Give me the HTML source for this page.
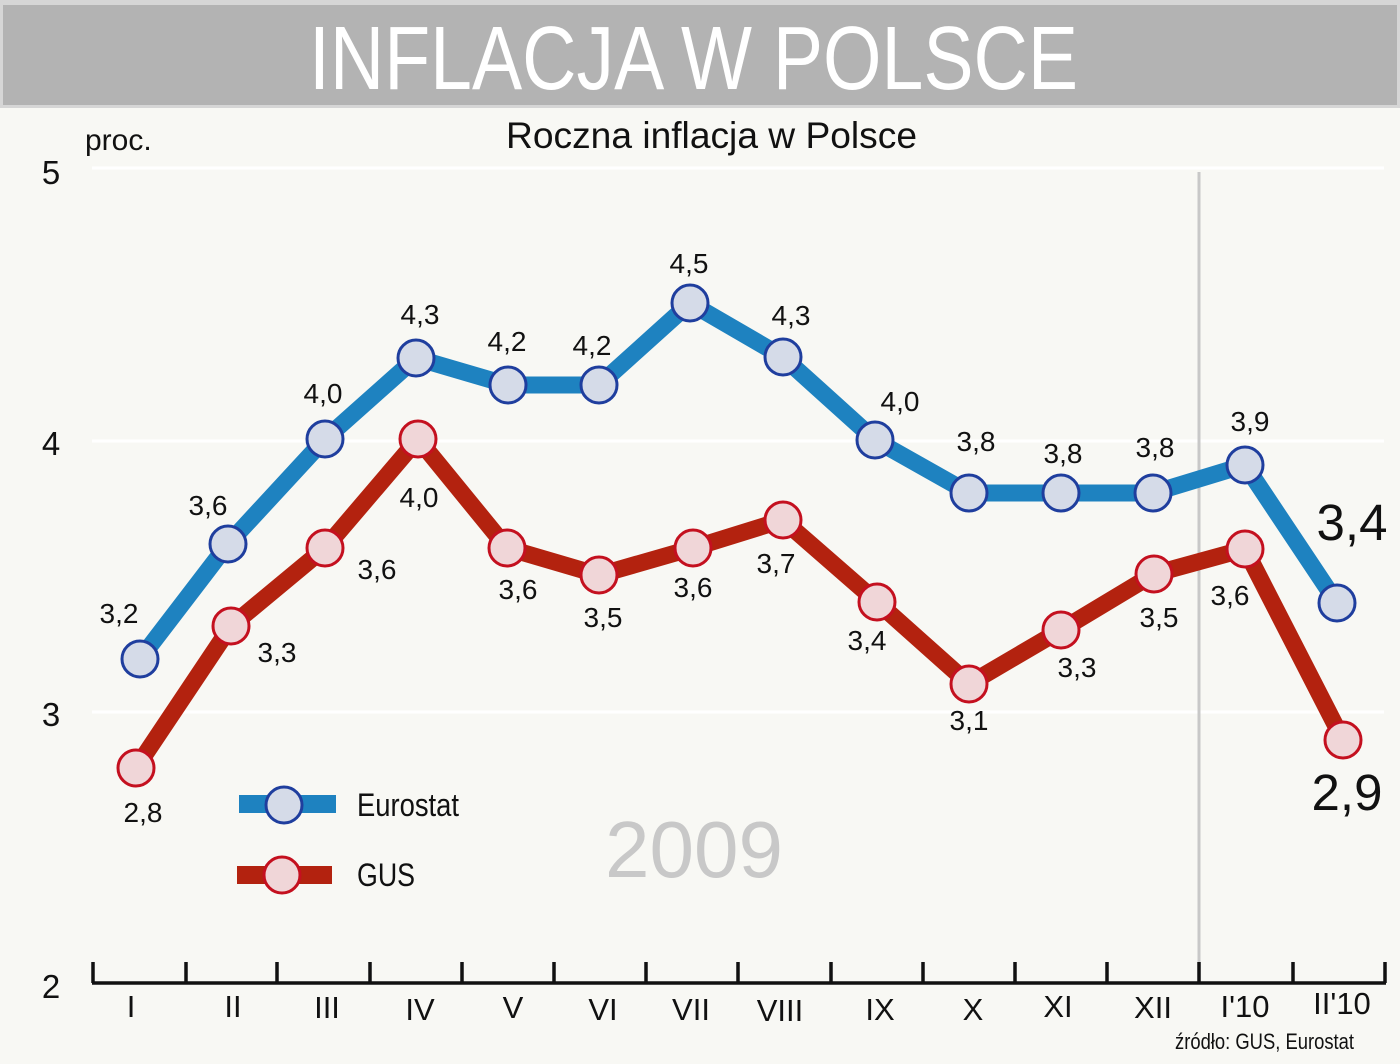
<!DOCTYPE html>
<html><head><meta charset="utf-8"><style>
html,body{margin:0;padding:0;background:#f8f8f4;}
svg{display:block;}
text{font-family:"Liberation Sans",Arial,sans-serif;}
</style></head><body>
<svg width="1400" height="1064" viewBox="0 0 1400 1064" xmlns="http://www.w3.org/2000/svg">
<rect x="0" y="0" width="1400" height="1064" fill="#f8f8f4"/>
<!-- banner -->
<rect x="0" y="0" width="1400" height="108" fill="#d6d6d6"/>
<rect x="3" y="5" width="1394" height="100" fill="#b3b3b3"/>
<text x="309" y="89" font-size="90" fill="#ffffff" textLength="769" lengthAdjust="spacingAndGlyphs">INFLACJA W POLSCE</text>

<!-- subtitle and unit -->
<text x="506" y="148" font-size="37" fill="#111" textLength="411" lengthAdjust="spacingAndGlyphs">Roczna inflacja w Polsce</text>
<text x="85" y="150" font-size="30" fill="#111">proc.</text>

<!-- grid lines -->
<g stroke="#ffffff" stroke-width="3">
<line x1="92" y1="168" x2="1384" y2="168"/>
<line x1="92" y1="441" x2="1384" y2="441"/>
<line x1="92" y1="712" x2="1384" y2="712"/>
</g>
<line x1="1199" y1="172" x2="1199" y2="983" stroke="#c8c8c8" stroke-width="3"/>

<!-- y labels -->
<g font-size="33" fill="#111" text-anchor="middle">
<text x="51" y="184">5</text>
<text x="51" y="455">4</text>
<text x="51" y="726">3</text>
<text x="51" y="998">2</text>
</g>

<!-- x axis -->
<g stroke="#111" stroke-width="3.5" fill="none">
<line x1="92" y1="983" x2="1386" y2="983"/>
<path d="M93 962V983 M186 962V983 M277 962V983 M370 962V983 M462 962V983 M554 962V983 M646 962V983 M738 962V983 M831 962V983 M923 962V983 M1015 962V983 M1107 962V983 M1199 962V983 M1293 962V983 M1385 962V983"/>
</g>
<g font-size="31" fill="#111" text-anchor="middle">
<text x="131" y="1017">I</text>
<text x="233" y="1017">II</text>
<text x="327" y="1018">III</text>
<text x="420" y="1020">IV</text>
<text x="513" y="1018">V</text>
<text x="603" y="1020">VI</text>
<text x="691" y="1020">VII</text>
<text x="780" y="1021">VIII</text>
<text x="880" y="1020">IX</text>
<text x="973" y="1020">X</text>
<text x="1058" y="1017">XI</text>
<text x="1153" y="1018">XII</text>
<text x="1245" y="1017">I'10</text>
<text x="1342" y="1014">II'10</text>
</g>
<text x="1175" y="1049" font-size="22" fill="#111" textLength="179" lengthAdjust="spacingAndGlyphs">źródło: GUS, Eurostat</text>

<!-- 2009 -->
<text x="694" y="877" font-size="80" fill="#c8c8c8" text-anchor="middle">2009</text>

<!-- Eurostat line -->
<polyline fill="none" stroke="#1e82c0" stroke-width="17" stroke-linejoin="round"
 points="140,659 228,544 325,439 416,358 508,385 599,385 690,303 783,357 875,440 969,493 1061,493 1153,493 1245,465 1337,603"/>
<!-- GUS line -->
<polyline fill="none" stroke="#b3220f" stroke-width="17" stroke-linejoin="round"
 points="136,768 231,626 325,548 418,439 507,548 599,575 693,548 783,520 877,602 969,684 1061,630 1154,574 1245,549 1343,740"/>

<g fill="#d5dbe8" stroke="#1f3e9e" stroke-width="3">
<circle cx="140" cy="659" r="18"/>
<circle cx="228" cy="544" r="18"/>
<circle cx="325" cy="439" r="18"/>
<circle cx="416" cy="358" r="18"/>
<circle cx="508" cy="385" r="18"/>
<circle cx="599" cy="385" r="18"/>
<circle cx="690" cy="303" r="18"/>
<circle cx="783" cy="357" r="18"/>
<circle cx="875" cy="440" r="18"/>
<circle cx="969" cy="493" r="18"/>
<circle cx="1061" cy="493" r="18"/>
<circle cx="1153" cy="493" r="18"/>
<circle cx="1245" cy="465" r="18"/>
<circle cx="1337" cy="603" r="18"/>
</g>
<g fill="#f0d6d8" stroke="#c4101f" stroke-width="3">
<circle cx="136" cy="768" r="18"/>
<circle cx="231" cy="626" r="18"/>
<circle cx="325" cy="548" r="18"/>
<circle cx="418" cy="439" r="18"/>
<circle cx="507" cy="548" r="18"/>
<circle cx="599" cy="575" r="18"/>
<circle cx="693" cy="548" r="18"/>
<circle cx="783" cy="520" r="18"/>
<circle cx="877" cy="602" r="18"/>
<circle cx="969" cy="684" r="18"/>
<circle cx="1061" cy="630" r="18"/>
<circle cx="1154" cy="574" r="18"/>
<circle cx="1245" cy="549" r="18"/>
<circle cx="1343" cy="740" r="18"/>
</g>

<!-- data labels -->
<g font-size="28" fill="#111" text-anchor="middle">
<text x="119" y="623">3,2</text>
<text x="208" y="515">3,6</text>
<text x="323" y="403">4,0</text>
<text x="420" y="324">4,3</text>
<text x="507" y="351">4,2</text>
<text x="592" y="355">4,2</text>
<text x="689" y="273">4,5</text>
<text x="791" y="325">4,3</text>
<text x="900" y="411">4,0</text>
<text x="976" y="451">3,8</text>
<text x="1063" y="463">3,8</text>
<text x="1155" y="457">3,8</text>
<text x="1250" y="431">3,9</text>

<text x="143" y="822">2,8</text>
<text x="277" y="662">3,3</text>
<text x="377" y="579">3,6</text>
<text x="419" y="507">4,0</text>
<text x="518" y="599">3,6</text>
<text x="603" y="627">3,5</text>
<text x="693" y="597">3,6</text>
<text x="776" y="573">3,7</text>
<text x="867" y="650">3,4</text>
<text x="969" y="730">3,1</text>
<text x="1077" y="677">3,3</text>
<text x="1159" y="627">3,5</text>
<text x="1230" y="605">3,6</text>
</g>
<g font-size="51" fill="#111" text-anchor="middle">
<text x="1352" y="540">3,4</text>
<text x="1347" y="810">2,9</text>
</g>

<!-- legend -->
<rect x="239" y="795" width="97" height="18" fill="#1e82c0"/>
<circle cx="284" cy="805" r="18" fill="#d5dbe8" stroke="#1f3e9e" stroke-width="3"/>
<text x="357" y="816" font-size="32" fill="#111" textLength="102" lengthAdjust="spacingAndGlyphs">Eurostat</text>
<rect x="237" y="866" width="95" height="18" fill="#b3220f"/>
<circle cx="282" cy="875" r="18" fill="#f0d6d8" stroke="#c4101f" stroke-width="3"/>
<text x="357" y="886" font-size="32" fill="#111" textLength="58" lengthAdjust="spacingAndGlyphs">GUS</text>
</svg>
</body></html>
